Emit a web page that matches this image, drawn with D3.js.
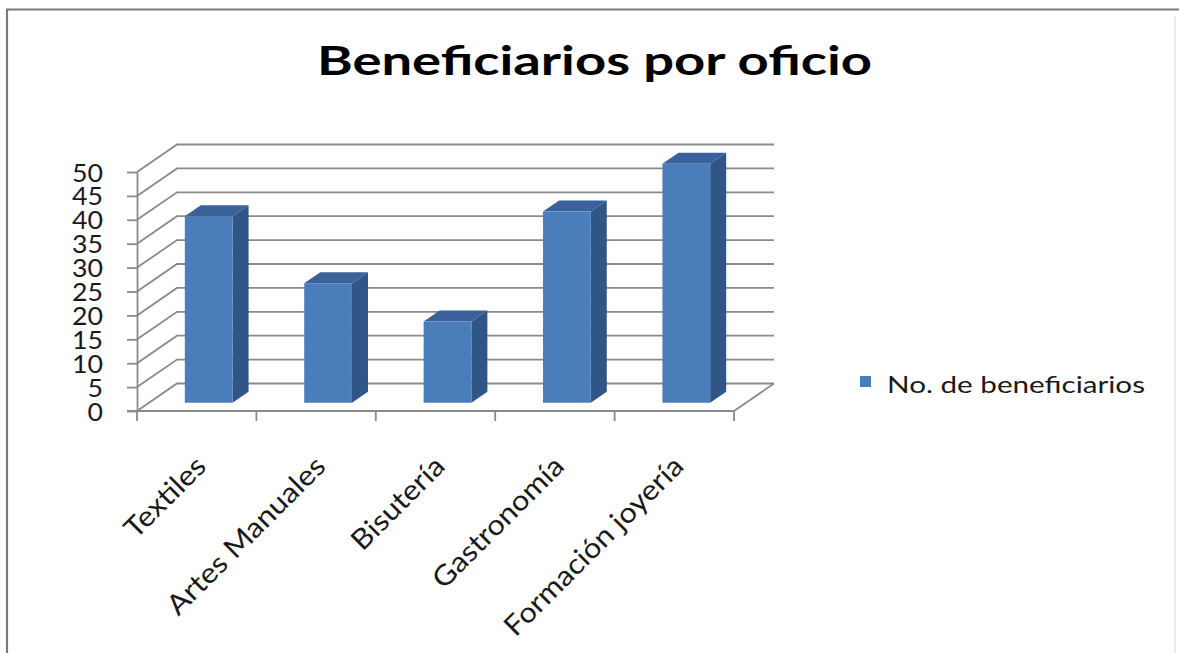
<!DOCTYPE html>
<html><head><meta charset="utf-8">
<script src="https://cdn.jsdelivr.net/npm/d3@7"></script>
<style>body{margin:0;background:#fff} svg{display:block}</style>
</head><body><svg id="c" width="1179" height="653"></svg>
<script>
const title = "Beneficiarios por oficio";
const categories = ["Textiles", "Artes Manuales", "Bisutería", "Gastronomía", "Formación joyería"];
const values = [39, 25, 17, 40, 50];
const seriesName = "No. de beneficiarios";
const yTicks = [0, 5, 10, 15, 20, 25, 30, 35, 40, 45, 50];

const svg = d3.select("#c");
const FONT = "Lato, 'Open Sans', sans-serif";
const GRID = "#8a8a8a";

// frame
svg.append("rect").attr("width", 1179).attr("height", 653).attr("fill", "#fff");
svg.append("path").attr("d", "M7,653 L7,9.5 L1179,9.5").attr("fill", "none")
  .attr("stroke", "#7a7a7a").attr("stroke-width", 2.2);
svg.append("line").attr("x1", 1175).attr("x2", 1175).attr("y1", 16).attr("y2", 653)
  .attr("stroke", "#e4e4e4").attr("stroke-width", 1.5);

// scales (front plane)
const x = d3.scaleBand().domain(categories).range([137, 734]);
const y = d3.scaleLinear().domain([0, 50]).range([411, 172]);
const DX = 40, DY = -27.5;           // full depth offset
const F1 = 0.3, F2 = 0.7;            // bar depth position

// back wall gridlines + side wall diagonals
const g = svg.append("g");
yTicks.forEach(v => {
  const yf = y(v), yb = y(v) + DY;
  g.append("path")
    .attr("d", `M137,${yf} L${137 + DX},${yb} L${734 + DX},${yb}`)
    .attr("fill", "none").attr("stroke", GRID).attr("stroke-width", 1.8);
});
// floor right edge
g.append("line").attr("x1", 734).attr("y1", y(0)).attr("x2", 734 + DX).attr("y2", y(0) + DY)
  .attr("stroke", GRID).attr("stroke-width", 1.8);

// y axis
const yAxis = d3.axisLeft(y).tickValues(yTicks).tickSize(10).tickSizeOuter(0).tickPadding(24);
const ya = svg.append("g").attr("transform", "translate(137,0)").call(yAxis);
ya.selectAll("path,line").attr("stroke", GRID).attr("stroke-width", 1.8);
ya.selectAll("text").attr("font-family", FONT).attr("font-size", 25).attr("fill", "#1a1a1a")
  .attr("dy", "0.36em")
  .each(function(d) { this.setAttribute("textLength", String(d).length * 15.5); this.setAttribute("lengthAdjust", "spacingAndGlyphs"); });

// x axis line + ticks at category boundaries
svg.append("line").attr("x1", 127).attr("x2", 734).attr("y1", y(0)).attr("y2", y(0))
  .attr("stroke", GRID).attr("stroke-width", 1.8);
const bounds = categories.map(c => x(c)).concat([x.range()[1]]);
svg.selectAll(".xt").data(bounds).join("line")
  .attr("x1", d => d).attr("x2", d => d).attr("y1", y(0)).attr("y2", y(0) + 10)
  .attr("stroke", GRID).attr("stroke-width", 1.8);

// bars
const bw = x.bandwidth() * 0.4;
const bars = svg.append("g");
categories.forEach((c, i) => {
  const v = values[i];
  const cx = x(c) + x.bandwidth() / 2;
  const xl = cx - bw / 2 + DX * F1, xr = cx + bw / 2 + DX * F1;
  const yb = y(0) + DY * F1, yt = y(v) + DY * F1;
  const ddx = DX * (F2 - F1), ddy = DY * (F2 - F1);
  bars.append("path")
    .attr("d", `M${xr},${yb} L${xr},${yt} L${xr + ddx},${yt + ddy} L${xr + ddx},${yb + ddy} Z`)
    .attr("fill", "#2f5687");
  bars.append("path")
    .attr("d", `M${xl},${yt} L${xr},${yt} L${xr + ddx},${yt + ddy} L${xl + ddx},${yt + ddy} Z`)
    .attr("fill", "#3a6199");
  bars.append("rect").attr("x", xl).attr("y", yt).attr("width", xr - xl).attr("height", yb - yt)
    .attr("fill", "#4a7ebb");
});

// category labels
svg.selectAll(".xl").data(categories).join("text")
  .attr("transform", d => `translate(${x(d) + x.bandwidth() / 2 + 11},468) rotate(-45)`)
  .attr("text-anchor", "end").attr("font-family", FONT).attr("font-size", 28).attr("fill", "#1a1a1a")
  .text(d => d)
  .each(function() {
    const L = this.getComputedTextLength();
    this.setAttribute("textLength", L * 1.1);
    this.setAttribute("lengthAdjust", "spacingAndGlyphs");
  });

// title
const t = svg.append("text").attr("x", 594.5).attr("y", 75).attr("text-anchor", "middle")
  .attr("font-family", FONT).attr("font-weight", "bold").attr("font-size", 40).attr("fill", "#000")
  .text(title);
t.attr("textLength", 555).attr("lengthAdjust", "spacingAndGlyphs");

// legend
svg.append("rect").attr("x", 860).attr("y", 376).attr("width", 11).attr("height", 11).attr("fill", "#4a7ebb");
svg.append("text").attr("x", 887).attr("y", 393).attr("font-family", FONT).attr("font-size", 23)
  .attr("fill", "#1a1a1a").attr("textLength", 258).attr("lengthAdjust", "spacingAndGlyphs").text(seriesName);
</script></body></html>
